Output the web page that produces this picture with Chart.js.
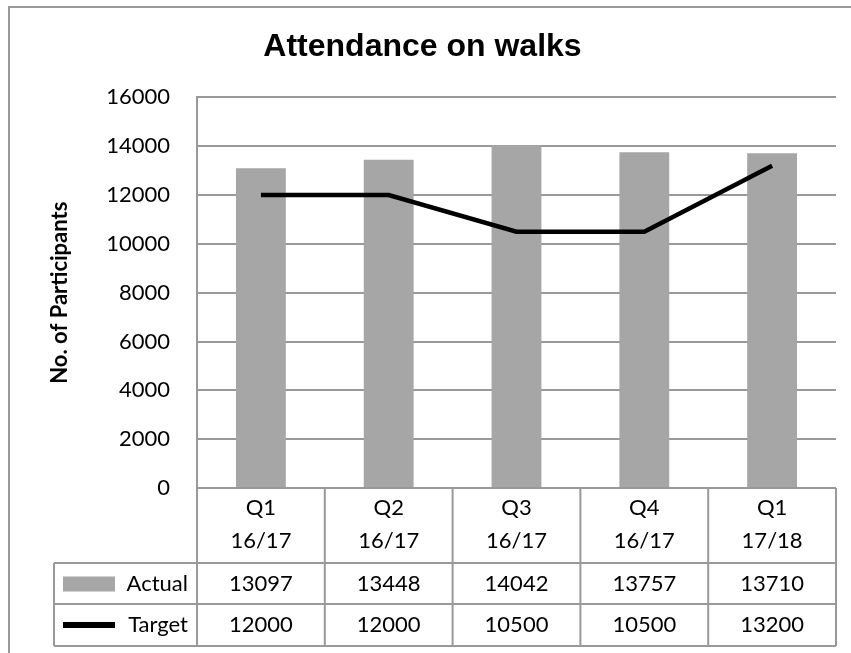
<!DOCTYPE html>
<html>
<head>
  <title>Attendance on walks</title>
  <script src="https://cdn.jsdelivr.net/npm/chart.js"></script>
  <style>
    body { margin: 0; background: #fff; }
    canvas { display: block; }
  </style>
</head>
<body>
  <canvas id="walksChart" width="851" height="653"></canvas>

  <script>
    // data
    const quarters = [['Q1', '16/17'], ['Q2', '16/17'], ['Q3', '16/17'], ['Q4', '16/17'], ['Q1', '17/18']];
    const actual = [13097, 13448, 14042, 13757, 13710];
    const target = [12000, 12000, 10500, 10500, 13200];
    const yMin = 0, yMax = 16000, yStep = 2000;

    const lineGrey = '#999999';
    const barGrey = '#a6a6a6';
    const font = 'Lato';

    // draws the outer frame of the picture
    const framePlugin = {
      id: 'frame',
      beforeDraw(chart) {
        const ctx = chart.ctx;
        ctx.save();
        ctx.fillStyle = '#fff';
        ctx.fillRect(0, 0, chart.width, chart.height);
        ctx.strokeStyle = lineGrey;
        ctx.lineWidth = 2;
        ctx.beginPath();
        ctx.moveTo(9, chart.height);
        ctx.lineTo(9, 7);
        ctx.lineTo(chart.width, 7);
        ctx.stroke();
        ctx.restore();
      }
    };

    // data table under the plot, like excel's
    const tablePlugin = {
      id: 'dataTable',
      afterDraw(chart) {
        const ctx = chart.ctx;
        const x = chart.scales.x;
        const area = chart.chartArea;
        const n = chart.data.labels.length;
        const colW = (area.right - area.left) / n;
        const rowTop = area.bottom;
        const row1 = rowTop + 75, row2 = row1 + 41, row3 = row2 + 42;
        const tableLeft = 54;

        ctx.save();
        ctx.strokeStyle = lineGrey;
        ctx.lineWidth = 2;
        ctx.beginPath();
        [row1, row2, row3].forEach(y => { ctx.moveTo(tableLeft, y); ctx.lineTo(area.right, y); });
        for (let i = 0; i <= n; i++) {
          const cx = area.left + i * colW;
          ctx.moveTo(cx, rowTop); ctx.lineTo(cx, row3);
        }
        ctx.moveTo(tableLeft, row1); ctx.lineTo(tableLeft, row3);
        ctx.stroke();

        ctx.fillStyle = '#000';
        ctx.font = '22px ' + font;
        ctx.textAlign = 'center';
        ctx.textBaseline = 'middle';
        chart.data.labels.forEach((lab, i) => {
          const cx = x.getPixelForValue(i);
          ctx.fillText(lab[0], cx, rowTop + 20);
          ctx.fillText(lab[1], cx, rowTop + 53);
        });

        const ds = chart.data.datasets;
        const rows = [row1, row2];
        ds.forEach((d, r) => {
          const cy = (rows[r] + (r === 0 ? row2 : row3)) / 2;
          d.data.forEach((v, i) => {
            ctx.fillText(String(v), x.getPixelForValue(i), cy);
          });
          ctx.textAlign = 'right';
          ctx.fillText(d.label, area.left - 9, cy);
          ctx.textAlign = 'center';
          if (d.type === 'line') {
            ctx.fillStyle = d.borderColor;
            ctx.fillRect(63, cy - 3, 52, 6);
          } else {
            ctx.fillStyle = d.backgroundColor;
            ctx.fillRect(63, cy - 7, 52, 15);
          }
          ctx.fillStyle = '#000';
        });
        ctx.restore();
      }
    };

    const ctx = document.getElementById('walksChart').getContext('2d');
    new Chart(ctx, {
      type: 'bar',
      data: {
        labels: quarters,
        datasets: [
          {
            label: 'Actual',
            data: actual,
            backgroundColor: barGrey,
            barPercentage: 0.39,
            categoryPercentage: 1,
            order: 1
          },
          {
            type: 'line',
            label: 'Target',
            data: target,
            borderColor: '#000',
            borderWidth: 4.5,
            pointRadius: 0,
            tension: 0,
            order: 0
          }
        ]
      },
      options: {
        responsive: false,
        animation: false,
        layout: { padding: { top: 7, left: 9, right: 15, bottom: 165 } },
        plugins: {
          legend: { display: false },
          tooltip: { enabled: false },
          title: {
            display: true,
            text: 'Attendance on walks',
            color: '#000',
            font: { family: 'Liberation Sans', size: 32, weight: 'bold' },
            padding: { top: 21, bottom: 31 }
          }
        },
        scales: {
          x: { display: false },
          y: {
            min: yMin,
            max: yMax,
            ticks: {
              stepSize: yStep,
              color: '#000',
              padding: 27,
              font: { family: font, size: 22 },
              callback: v => String(v)
            },
            grid: { color: lineGrey, lineWidth: 2, drawTicks: false },
            border: { color: lineGrey, width: 2 },
            title: {
              display: true,
              text: 'No. of Participants',
              color: '#000',
              font: { family: font, size: 22, weight: 'bold' },
              padding: { top: 38, bottom: 0 }
            },
            afterFit(scale) { scale.width = 188; }
          }
        }
      },
      plugins: [framePlugin, tablePlugin]
    });
  </script>
</body>
</html>
